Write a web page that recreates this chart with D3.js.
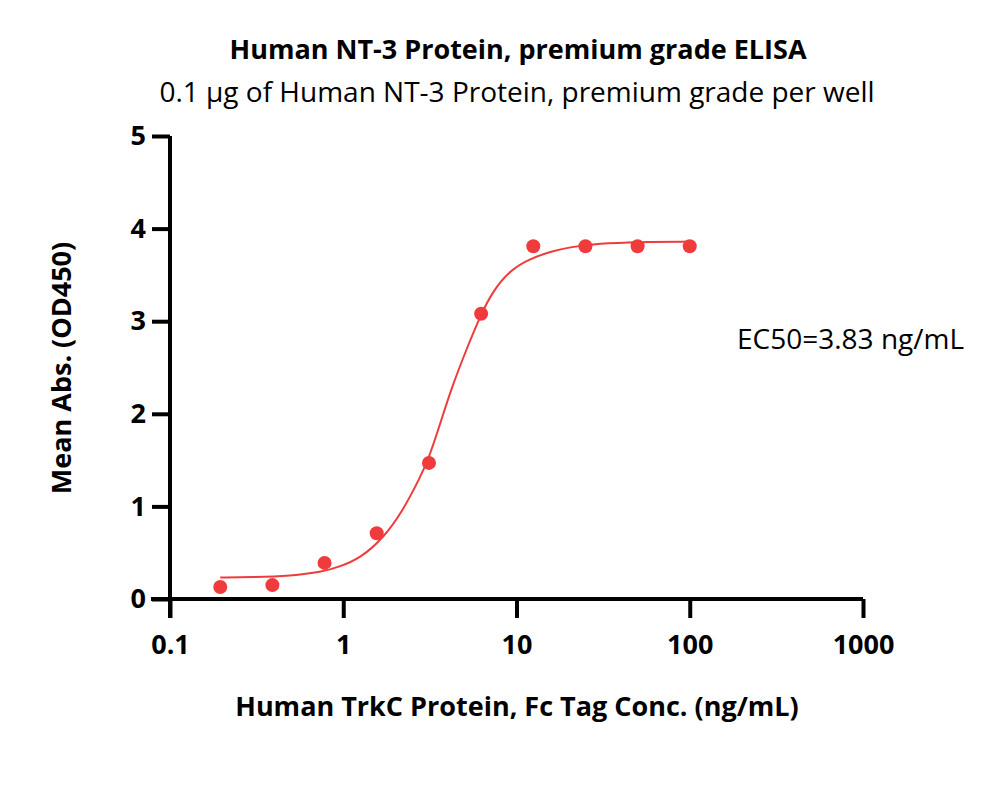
<!DOCTYPE html>
<meta charset="utf-8">
<script src="https://d3js.org/d3.v7.min.js"></script>
<title>Human NT-3 Protein, premium grade ELISA</title>
<style>
    body { margin: 0; background: #fff; }
    text { font-family: "Open Sans", sans-serif; fill: #000; }
</style>
<div id="chart"></div>
<script>
    // measured points (concentration in ng/mL, mean OD450)
    const conc = [0.195, 0.39, 0.78, 1.56, 3.125, 6.25, 12.5, 25, 50, 100];
    const od = [0.13, 0.15, 0.39, 0.71, 1.47, 3.08, 3.81, 3.81, 3.81, 3.81];

    // fitted curve
    const fitConc = [0.195, 0.3, 0.5, 0.75, 0.957, 1.25, 1.7, 2.22, 2.77, 3.09, 3.61, 4.2, 5.15, 6.25, 7.34, 9.17, 11.9, 16.3, 20.3, 30, 50, 100];
    const fitOd = [0.232, 0.236, 0.25, 0.29, 0.35, 0.44, 0.655, 0.96, 1.31, 1.50, 1.88, 2.27, 2.70, 3.08, 3.33, 3.55, 3.675, 3.76, 3.80, 3.84, 3.855, 3.86];

    const xTicks = [0.1, 1, 10, 100, 1000];
    const yTicks = [0, 1, 2, 3, 4, 5];

    const width = 1000, height = 796;
    const red = "#ef3b3c";

    const svg = d3.select("#chart").append("svg")
        .attr("width", width)
        .attr("height", height);

    const x = d3.scaleLog().domain([0.1, 1000]).range([170, 863]);
    const y = d3.scaleLinear().domain([0, 5]).range([599, 136]);

    // axes
    const xAxis = svg.append("g")
        .attr("transform", `translate(0,${y(0)})`)
        .call(d3.axisBottom(x).tickValues(xTicks).tickFormat(d => d).tickSize(19).tickSizeOuter(0).tickPadding(17));
    const yAxis = svg.append("g")
        .attr("transform", `translate(${x(0.1)},0)`)
        .call(d3.axisLeft(y).tickValues(yTicks).tickFormat(d3.format("d")).tickSize(18).tickSizeOuter(0).tickPadding(6));

    [xAxis, yAxis].forEach(g => {
        g.select(".domain").attr("stroke", "#000").attr("stroke-width", 4);
        g.selectAll(".tick line").attr("stroke", "#000").attr("stroke-width", 4);
        g.selectAll(".tick text")
            .style("font-family", "'Open Sans', sans-serif")
            .style("font-size", "27px")
            .style("font-weight", "bold")
            .attr("fill", "#000");
    });
    // extend x axis line to the left so it meets the y ticks
    xAxis.select(".domain").attr("d", `M${x(0.1) - 19},0H${x(1000)}`);
    yAxis.select(".domain").attr("d", `M0,${y(5)}V${y(0) + 19}`);

    // fitted line
    const line = d3.line()
        .x((d, i) => x(fitConc[i]))
        .y(d => y(d))
        .curve(d3.curveBasis);

    svg.append("path")
        .datum(fitOd)
        .attr("d", line)
        .attr("fill", "none")
        .attr("stroke", red)
        .attr("stroke-width", 2);

    // points
    svg.append("g")
        .selectAll("circle")
        .data(od)
        .join("circle")
        .attr("cx", (d, i) => x(conc[i]))
        .attr("cy", d => y(d))
        .attr("r", 7)
        .attr("fill", red);

    // titles
    svg.append("text")
        .attr("x", 518).attr("y", 59)
        .attr("text-anchor", "middle")
        .style("font-size", "27px")
        .style("font-weight", "bold")
        .text("Human NT-3 Protein, premium grade ELISA");

    svg.append("text")
        .attr("x", 517).attr("y", 102)
        .attr("text-anchor", "middle")
        .style("font-size", "28px")
        .text("0.1 µg of Human NT-3 Protein, premium grade per well");

    svg.append("text")
        .attr("x", 517).attr("y", 716)
        .attr("text-anchor", "middle")
        .style("font-size", "27px")
        .style("font-weight", "bold")
        .text("Human TrkC Protein, Fc Tag Conc. (ng/mL)");

    svg.append("text")
        .attr("transform", "translate(71,368) rotate(-90)")
        .attr("text-anchor", "middle")
        .style("font-size", "27px")
        .style("font-weight", "bold")
        .text("Mean Abs. (OD450)");

    svg.append("text")
        .attr("x", 737).attr("y", 349)
        .style("font-size", "28px")
        .text("EC50=3.83 ng/mL");
</script>
